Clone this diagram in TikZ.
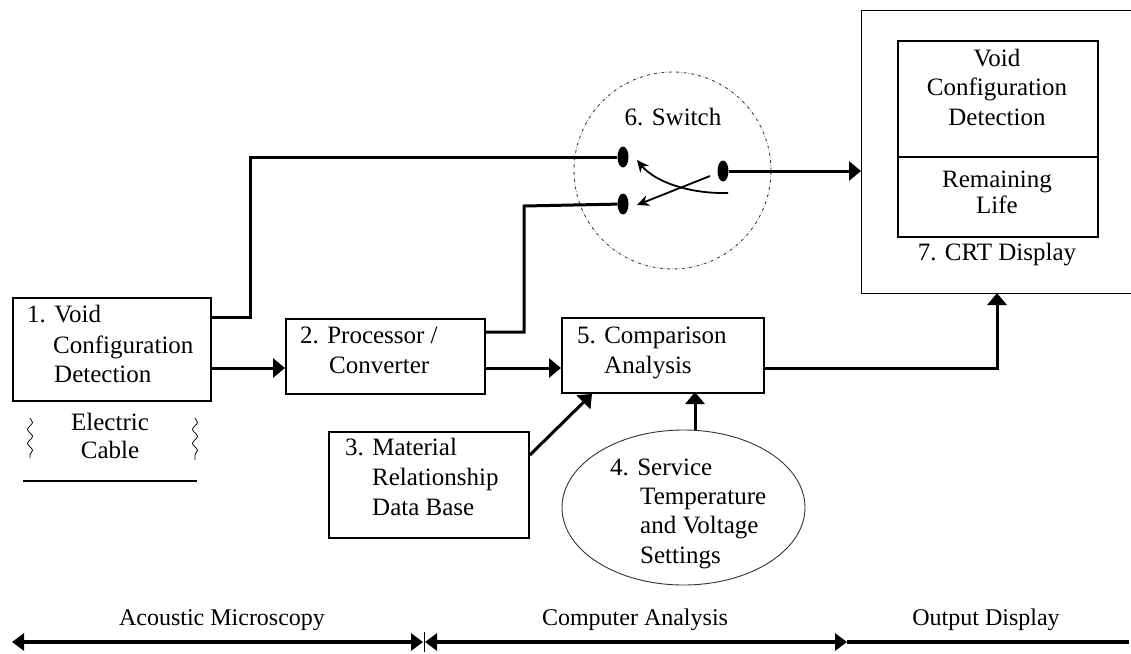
\documentclass[tikz,border=0pt]{standalone}
\usepackage{fontspec}
\setmainfont{Liberation Serif}
\usetikzlibrary{arrows.meta,decorations.pathmorphing,shapes.geometric}
\begin{document}
\begin{tikzpicture}[x=1pt,y=-1pt,
  blk/.style={draw,line width=1.9pt,inner sep=0pt,anchor=north west},
  lbl/.style={anchor=base west,inner sep=0pt,font=\fontsize{25}{30}\selectfont},
  clbl/.style={anchor=base,inner sep=0pt,font=\fontsize{25}{30}\selectfont},
  conn/.style={line width=3pt},
  arr/.style={conn,-{Triangle[length=12pt,width=19pt]}},
  sarr/.style={line width=1.8pt,-{Stealth[length=12pt,width=11pt]}},
  contact/.style={fill=black,ellipse,inner sep=0pt,minimum width=11pt,minimum height=21pt},
  axis/.style={line width=3.2pt},
  axarr/.style={Triangle[length=12pt,width=17pt]}
]
\useasboundingbox (0,0) rectangle (1131,653);

% boxes
\node[blk,minimum width=198pt,minimum height=103pt] (b1) at (12,297) {};
\node[blk,minimum width=199pt,minimum height=75pt] (b2) at (285,318) {};
\node[blk,minimum width=202pt,minimum height=75pt] (b5) at (561,317) {};
\node[blk,minimum width=200pt,minimum height=106pt] (b3) at (328,431) {};
\node[draw,ellipse,line width=0.9pt,draw=black!80,minimum width=243pt,minimum height=155pt,inner sep=0pt] (e4) at (683.5,507.5) {};
\node[draw,line width=1.1pt,inner sep=0pt,anchor=north west,minimum width=272pt,minimum height=283pt] (crt) at (861,10) {};
\node[blk,minimum width=200pt,minimum height=196pt] (inner) at (897,40) {};
\draw[line width=1.9pt] (inner.west |- 0,157) -- (inner.east |- 0,157);

% switch
\node[draw=black!75,circle,dash dot,line width=0.9pt,minimum size=197pt,inner sep=0pt] (sw) at (672.5,170.5) {};
\node[contact] (c1) at (623,157) {};
\node[contact] (c2) at (623,204) {};
\node[contact] (c3) at (723,171) {};
\node[clbl] (swl) at (673,125) {6. Switch};
\draw[sarr] (728,193) .. controls (690,194) and (655,182) .. (637,160);
\draw[sarr] (710,176) -- (637,205);

% texts
\node[lbl] (t1a) at (27,322) {1. Void};
\node[lbl] (t1b) at (53,353) {Configuration};
\node[lbl] (t1c) at (54,382) {Detection};
\node[clbl] (t1d) at (110,430) {Electric};
\node[clbl] (t1e) at (110,458) {Cable};
\node[lbl] (t2a) at (300,343) {2. Processor /};
\node[lbl] (t2b) at (329,373) {Converter};
\node[lbl] (t5a) at (577,343) {5. Comparison};
\node[lbl] (t5b) at (604,373) {Analysis};
\node[lbl] (t3a) at (345,455) {3. Material};
\node[lbl] (t3b) at (372,485) {Relationship};
\node[lbl] (t3c) at (372,515) {Data Base};
\node[lbl] (t4a) at (610,475) {4. Service};
\node[lbl] (t4b) at (640,504) {Temperature};
\node[lbl] (t4c) at (640,533) {and Voltage};
\node[lbl] (t4d) at (640,563) {Settings};
\node[clbl] (t7a) at (997,66) {Void};
\node[clbl] (t7b) at (997,95) {Configuration};
\node[clbl] (t7c) at (997,125) {Detection};
\node[clbl] (t7d) at (997,187) {Remaining};
\node[clbl] (t7e) at (997,213) {Life};
\node[clbl] (t7f) at (997,260) {7. CRT Display};

% electric cable
\draw[line width=0.8pt,decorate,decoration={snake,amplitude=2.5pt,segment length=14pt}] (30,418) -- (30,458);
\draw[line width=0.8pt,decorate,decoration={snake,amplitude=2.5pt,segment length=14pt}] (195,418) -- (195,460);
\draw[line width=1.6pt] (23,481) -- (197,481);

% connectors
\coordinate (y317) at (0,317);
\coordinate (y368) at (0,368);
\coordinate (y332) at (0,332);
\draw[conn] (b1.east |- y317) -- (250,317) -- (250,157) -- (c1);
\draw[arr] (b1.east |- y368) -- (b2.west |- y368);
\draw[arr] (b2.east |- y368) -- (b5.west |- y368);
\draw[conn] (b2.east |- y332) -- (524,332) -- (524,206) -- (c2);
\draw[arr] (c3) -- (crt.west |- c3);
\draw[arr] (b5.east |- y368) -| (997,293);
\draw[arr] (b3.north east |- 0,455) -- ([xshift=31pt]b5.south west);
\draw[arr] (695,430) -- (695,392);

% bottom axis
\node[clbl,font=\fontsize{24}{28}\selectfont] (ax1) at (222,625) {Acoustic Microscopy};
\node[clbl,font=\fontsize{24}{28}\selectfont] (ax2) at (635,625) {Computer Analysis};
\node[clbl,font=\fontsize{24}{28}\selectfont] (ax3) at (986,625) {Output Display};
\coordinate (a0) at (12,642);
\coordinate (a1) at (423,642);
\coordinate (a2) at (425,642);
\coordinate (a3) at (847,642);
\coordinate (a4) at (1129,642);
\draw[axis,{Triangle[length=12pt,width=17pt]}-{Triangle[length=12pt,width=17pt]}] (a0) -- (a1);
\draw[axis,{Triangle[length=12pt,width=17pt]}-{Triangle[length=12pt,width=17pt]}] (a2) -- (a3);
\draw[axis] (a3) -- (a4);
\draw[line width=1pt] (424,632) -- (424,652);
\end{tikzpicture}
\end{document}
